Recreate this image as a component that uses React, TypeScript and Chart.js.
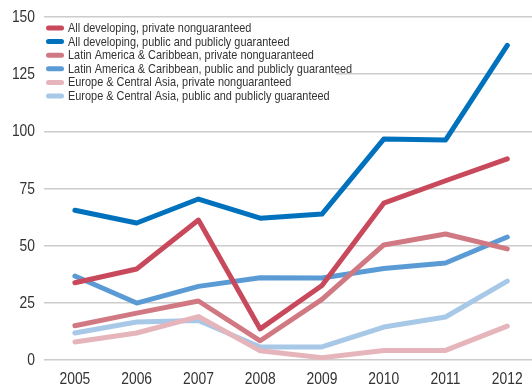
import React, { useEffect, useRef } from "react";
import { Chart, registerables } from "chart.js";

Chart.register(...registerables);

const years = [2005, 2006, 2007, 2008, 2009, 2010, 2011, 2012];
const yTicks = [0, 25, 50, 75, 100, 125, 150];

const seriesNames = [
  "All developing, private nonguaranteed",
  "All developing, public and publicly guaranteed",
  "Latin America & Caribbean, private nonguaranteed",
  "Latin America & Caribbean, public and publicly guaranteed",
  "Europe & Central Asia, private nonguaranteed",
  "Europe & Central Asia, public and publicly guaranteed",
];

const allDevPrivate = [33.8, 39.8, 61.2, 13.6, 32.6, 68.6, 78.4, 88];
const allDevPublic = [65.5, 59.9, 70.4, 62, 63.8, 96.6, 96.2, 137.6];
const lacPrivate = [15, 20.5, 25.8, 8.4, 26.5, 50.3, 55.1, 48.6];
const lacPublic = [36.7, 24.9, 32.2, 36, 35.9, 40, 42.4, 53.8];
const ecaPrivate = [7.9, 11.8, 19, 4, 1, 4.2, 4.2, 14.8];
const ecaPublic = [11.8, 16.6, 17.3, 5.7, 5.7, 14.4, 18.8, 34.5];

const seriesValues = [allDevPrivate, allDevPublic, lacPrivate, lacPublic, ecaPrivate, ecaPublic];
const seriesColors = ["#C8495B", "#0071BC", "#D17983", "#5B9BD5", "#E6B5BB", "#A8C8E8"];

const FONT = "'Liberation Sans', Arial, sans-serif";
const SQUEEZE = 0.84;

function narrowText(ctx: any, text: string, x: number, y: number, align: string) {
  ctx.save();
  ctx.translate(x, y);
  ctx.scale(SQUEEZE, 1);
  ctx.textAlign = align;
  ctx.fillText(text, 0, 0);
  ctx.restore();
}

const textPlugin = {
  id: "narrowTexts",
  beforeDatasetsDraw(chart: any) {
    const ctx = chart.ctx;
    ctx.save();
    // legend box
    ctx.fillStyle = "#ffffff";
    ctx.fillRect(44, 20, 292, 84);
    ctx.font = `13px ${FONT}`;
    ctx.textBaseline = "middle";
    chart.data.datasets.forEach((ds: any, i: number) => {
      const y = 28 + i * 13.6;
      ctx.strokeStyle = ds.borderColor;
      ctx.lineWidth = 5;
      ctx.lineCap = "round";
      ctx.beginPath();
      ctx.moveTo(48.5, y);
      ctx.lineTo(61.5, y);
      ctx.stroke();
      ctx.fillStyle = "#333333";
      narrowText(ctx, ds.label, 68, y + 0.5, "left");
    });
    // axis tick labels
    const xs = chart.scales.x;
    const ys = chart.scales.y;
    ctx.fillStyle = "#333333";
    ctx.font = `16.5px ${FONT}`;
    ctx.textBaseline = "middle";
    yTicks.forEach((v) => {
      narrowText(ctx, String(v), 35, ys.getPixelForValue(v) + 0.5, "right");
    });
    years.forEach((v) => {
      narrowText(ctx, String(v), xs.getPixelForValue(v), 379, "center");
    });
    ctx.restore();
  },
};

export default function App() {
  const ref = useRef<HTMLCanvasElement | null>(null);
  useEffect(() => {
    document.body.style.margin = "0";
    const canvas = ref.current!;
    const chart = new Chart(canvas, {
      type: "line",
      data: {
        datasets: seriesValues.map((vals, i) => ({
          label: seriesNames[i],
          data: years.map((yr, j) => ({ x: yr, y: vals[j] })),
          borderColor: seriesColors[i],
          backgroundColor: seriesColors[i],
          borderWidth: 5,
          pointRadius: 0,
          tension: 0,
          borderCapStyle: "round",
          borderJoinStyle: "round",
          fill: false,
        })),
      },
      options: {
        animation: false,
        responsive: false,
        layout: { padding: { top: 17, right: 0, bottom: 0, left: 0 } },
        plugins: { legend: { display: false }, tooltip: { enabled: false } },
        scales: {
          x: {
            type: "linear",
            min: 2004.5,
            max: 2012.4,
            afterBuildTicks: (scale: any) => {
              scale.ticks = years.map((v) => ({ value: v }));
            },
            afterFit: (scale: any) => {
              scale.height = 25;
            },
            grid: { display: false, drawTicks: false },
            border: { display: false },
            ticks: { display: false },
          },
          y: {
            min: 0,
            max: 150,
            afterBuildTicks: (scale: any) => {
              scale.ticks = yTicks.map((v) => ({ value: v }));
            },
            afterFit: (scale: any) => {
              scale.width = 44;
            },
            grid: { color: "#cccccc", lineWidth: 1.5, drawTicks: false },
            border: { display: false },
            ticks: { display: false },
          },
        },
      },
      plugins: [textPlugin],
    } as any);
    return () => chart.destroy();
  }, []);
  return (
    <div style={{ width: 532, height: 385 }}>
      <canvas ref={ref} width={532} height={385} style={{ display: "block" }} />
    </div>
  );
}
